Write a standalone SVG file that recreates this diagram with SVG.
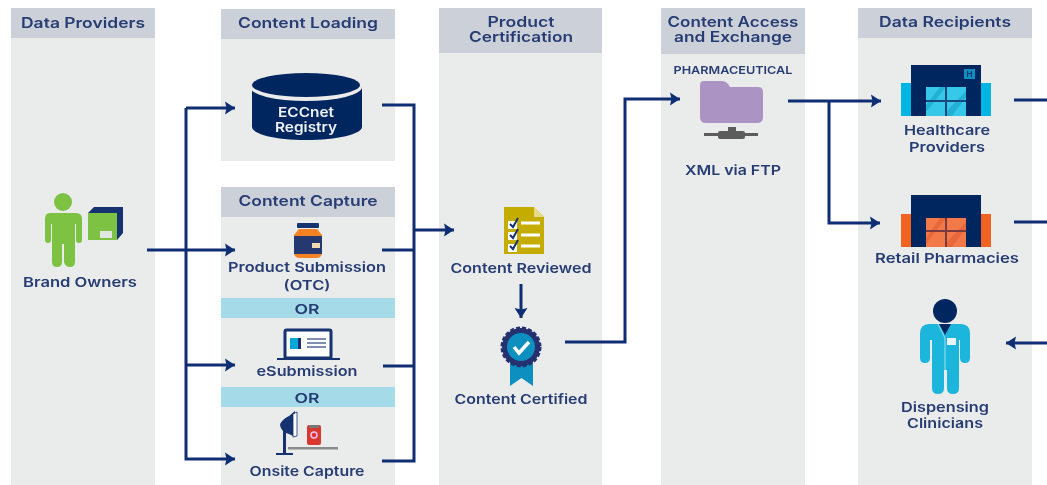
<svg xmlns="http://www.w3.org/2000/svg" width="1047" height="485" viewBox="0 0 1047 485">
<style>
.col{fill:#eaebeb}.hd{fill:#ccd0d9}.or{fill:#a5dbe8}
text{font-family:Inter,"Open Sans","Liberation Sans",sans-serif;font-weight:600;fill:#283c73;text-anchor:middle;font-size:13.5px}
.h{font-size:14.5px}
.w{fill:#fff}
.c path{fill:none;stroke:#0e2f73;stroke-width:3}
</style>
<defs>
<marker id="a" markerUnits="userSpaceOnUse" markerWidth="13" markerHeight="15" refX="10" refY="7.500" orient="auto"><path d="M0 1L10 7.500L0 14L1.500 7.500Z" fill="#0e2f73"/></marker>
<filter id="soft" x="0" y="0" width="100%" height="100%"><feGaussianBlur stdDeviation="0.6"/></filter>
</defs>
<rect width="1047" height="485" fill="#fff"/>
<g filter="url(#soft)">
<g id="col-providers"><rect class="col" x="11" y="8" width="144" height="477"/><rect class="hd" x="11" y="8" width="144" height="30"/><text class="h" x="83" y="28" textLength="124" lengthAdjust="spacingAndGlyphs">Data Providers</text></g>
<g id="col-loading"><rect class="col" x="221" y="9" width="174" height="152"/><rect class="hd" x="221" y="9" width="174" height="30"/><text class="h" x="308" y="28" textLength="140" lengthAdjust="spacingAndGlyphs">Content Loading</text></g>
<g id="col-capture"><rect class="col" x="221" y="187" width="174" height="298"/><rect class="hd" x="221" y="187" width="174" height="30"/><text class="h" x="308" y="206" textLength="139" lengthAdjust="spacingAndGlyphs">Content Capture</text>
<rect class="or" x="221" y="298" width="174" height="20"/><text x="307" y="314" textLength="25" lengthAdjust="spacingAndGlyphs">OR</text>
<rect class="or" x="221" y="387" width="174" height="20"/><text x="307" y="403" textLength="25" lengthAdjust="spacingAndGlyphs">OR</text></g>
<g id="col-cert"><rect class="col" x="439" y="8" width="163" height="477"/><rect class="hd" x="439" y="8" width="163" height="45"/><text class="h" x="521" y="27" textLength="67" lengthAdjust="spacingAndGlyphs">Product</text><text class="h" x="521" y="42" textLength="104" lengthAdjust="spacingAndGlyphs">Certification</text></g>
<g id="col-access"><rect class="col" x="661" y="8" width="144" height="477"/><rect class="hd" x="661" y="8" width="144" height="46"/><text class="h" x="733" y="27" textLength="131" lengthAdjust="spacingAndGlyphs">Content Access</text><text class="h" x="733" y="42" textLength="118" lengthAdjust="spacingAndGlyphs">and Exchange</text></g>
<g id="col-recipients"><rect class="col" x="858" y="8" width="174" height="477"/><rect class="hd" x="858" y="8" width="174" height="30"/><text class="h" x="945" y="27" textLength="132" lengthAdjust="spacingAndGlyphs">Data Recipients</text></g>

<g class="c" id="connectors">
<path d="M147 250H235" marker-end="url(#a)"/>
<path d="M186 108H235" marker-end="url(#a)"/>
<path d="M186 108V459H235" marker-end="url(#a)"/>
<path d="M186 365H235" marker-end="url(#a)"/>
<path d="M382 105H414V461H382"/>
<path d="M382 250H414"/><path d="M383 366H414"/>
<path d="M414 230H454" marker-end="url(#a)"/>
<path d="M521 284V318" marker-end="url(#a)"/>
<path d="M565 342H625V99H680" marker-end="url(#a)"/>
<path d="M788 101H881" marker-end="url(#a)"/>
<path d="M829 101V223H880" marker-end="url(#a)"/>
<path d="M1014 100H1047"/><path d="M1014 222H1047"/>
<path d="M1047 343H1006" marker-end="url(#a)"/>
</g>

<g id="brand-owners">
<circle cx="63" cy="202" r="9" fill="#7dc242"/>
<path d="M50 213H76Q82 213 82 219V240Q82 243 79 243T76 240V224H75V262Q75 267 70 267T64 262V244H62V262Q62 267 57 267T52 262V224H51V240Q51 243 48 243T45 240V219Q45 213 50 213Z" fill="#7dc242"/>
<path d="M88 213L94 207H123V233L117 240H88Z" fill="#12306f"/>
<rect x="88" y="213" width="29" height="27" fill="#7dc242"/>
<rect x="100" y="231" width="12" height="7" fill="#dfe8e0"/>
<text x="80" y="287" textLength="114" lengthAdjust="spacingAndGlyphs">Brand Owners</text>
</g>
<g id="eccnet">
<path d="M252 87V127C252 134 275 140 306 140S362 134 362 127V87Z" fill="#06285f"/>
<ellipse cx="306" cy="87" rx="56" ry="14" fill="#eaebeb"/>
<ellipse cx="306" cy="85" rx="54" ry="12" fill="#06285f"/>
<text x="306" y="117" textLength="56" lengthAdjust="spacingAndGlyphs" style="fill:#eef1f5">ECCnet</text>
<text x="306" y="132" textLength="62" lengthAdjust="spacingAndGlyphs" style="fill:#eef1f5">Registry</text>
</g>
<g id="product-submission">
<rect x="297" y="223" width="22" height="5" rx="1" fill="#12306f"/>
<path d="M299 229H317L322 235V252Q322 258 316 258H300Q294 258 294 252V235Z" fill="#f58220"/>
<rect x="294" y="236" width="28" height="18" fill="#25386f"/>
<rect x="312" y="243" width="8" height="5" fill="#f2d9b0"/>
<text x="307" y="272" textLength="158" lengthAdjust="spacingAndGlyphs">Product Submission</text><text x="307" y="290" textLength="47" lengthAdjust="spacingAndGlyphs">(OTC)</text>
</g>
<g id="esubmission">
<rect x="285" y="330" width="46" height="28" rx="1.500" fill="#fff" stroke="#12306f" stroke-width="3"/>
<rect x="277" y="358" width="63" height="2" fill="#12306f"/>
<rect x="290" y="338" width="11" height="11" fill="#00a7d8"/><rect x="298" y="338" width="3" height="11" fill="#12306f"/>
<path d="M307 339H326M307 343H326M307 347H326" stroke="#7f8fb0" stroke-width="2"/>
<text x="307" y="376" textLength="101" lengthAdjust="spacingAndGlyphs">eSubmission</text>
</g>
<g id="onsite-capture">
<path d="M295 411L289 416Q281 420 280 425Q281 432 289 434L295 437Z" fill="#12306f"/>
<path d="M293 414L297 412V436L293 437Z" fill="#fff" stroke="#12306f" stroke-width=".8"/>
<rect x="283" y="430" width="3" height="23" fill="#12306f"/>
<rect x="276" y="453" width="17" height="2" fill="#12306f"/>
<rect x="288" y="447" width="50" height="2.500" fill="#8b8b8b"/>
<rect x="307" y="425" width="14" height="20" rx="2" fill="#d8392f"/>
<rect x="309" y="425" width="10" height="3" fill="#777"/>
<circle cx="314" cy="435" r="3" fill="none" stroke="#fbe" stroke-width="1.500"/>
<text x="307" y="476" textLength="115" lengthAdjust="spacingAndGlyphs">Onsite Capture</text>
</g>
<g id="content-reviewed">
<path d="M504 207H534L544 217V254H504Z" fill="#c5ad00"/>
<path d="M534 207L544 217H534Z" fill="#e6da85"/>
<path d="M521 223H540M521 235H540M521 246H540" stroke="#fff" stroke-width="3"/>
<rect x="508" y="221" width="9" height="8" class="w"/><rect x="508" y="232" width="9" height="8" class="w"/><rect x="508" y="244" width="9" height="8" class="w"/>
<path d="M510 224L513 227L518 218M510 235L513 238L518 229M510 246L513 249L518 240" fill="none" stroke="#12306f" stroke-width="2"/>
<text x="521" y="273" textLength="141" lengthAdjust="spacingAndGlyphs">Content Reviewed</text>
</g>
<g id="content-certified">
<path d="M510 360H533V386L521.500 378L510 386Z" fill="#0f8fc0"/>
<circle cx="521" cy="347" r="19" fill="#25306f" stroke="#25306f" stroke-width="3" stroke-dasharray="4 2"/>
<circle cx="521" cy="347" r="14" fill="#0f8fc0"/>
<path d="M514 347L519 353L529 342" fill="none" stroke="#fff" stroke-width="3.500"/>
<text x="521" y="404" textLength="133" lengthAdjust="spacingAndGlyphs">Content Certified</text>
</g>
<g id="pharmaceutical-ftp">
<text x="733" y="74" textLength="119" lengthAdjust="spacingAndGlyphs" style="font-size:11px">PHARMACEUTICAL</text>
<path d="M704 81H722Q727 81 730 87H758Q763 87 763 92V117Q763 123 757 123H706Q700 123 700 117V85Q700 81 704 81Z" fill="#ab93c3"/>
<rect x="728" y="127" width="8" height="5" fill="#5b5b5b"/>
<rect x="704" y="133" width="54" height="3" fill="#5b5b5b"/><rect x="718" y="131" width="27" height="8" rx="2" fill="#5b5b5b"/>
<text x="733" y="175" textLength="96" lengthAdjust="spacingAndGlyphs">XML via FTP</text>
</g>
<g id="healthcare">
<rect x="901" y="83" width="90" height="33" fill="#00b5e2"/>
<rect x="911" y="65" width="70" height="51" fill="#06285f"/>
<rect x="964" y="69" width="11" height="10" fill="#0f8fc0"/>
<text x="969.500" y="77" style="font-size:8px;fill:#06285f">H</text>
<rect x="926" y="87" width="40" height="29" fill="#36c8e8"/>
<path d="M926 105L940 87H946L926 112ZM946 112L966 91V97L952 116H946Z" fill="#22b0d6"/>
<path d="M946 87V116M926 101H966" stroke="#12497f" stroke-width="2"/>
<text x="947" y="135" textLength="86" lengthAdjust="spacingAndGlyphs">Healthcare</text><text x="947" y="152" textLength="76" lengthAdjust="spacingAndGlyphs">Providers</text>
</g>
<g id="retail">
<rect x="901" y="214" width="90" height="33" fill="#f26322"/>
<rect x="911" y="195" width="70" height="52" fill="#06285f"/>
<rect x="926" y="218" width="40" height="29" fill="#f4794a"/>
<path d="M926 238L940 218H946L926 244ZM946 243L966 222V228L952 247H946Z" fill="#e9683a"/>
<path d="M946 218V247M926 231H966" stroke="#7a3a40" stroke-width="2"/>
<text x="947" y="263" textLength="144" lengthAdjust="spacingAndGlyphs">Retail Pharmacies</text>
</g>
<g id="clinicians">
<circle cx="945" cy="311" r="12" fill="#06285f"/>
<path d="M929 324H961Q970 324 970 334V358Q970 363 965 363T960 358V340H959V388Q959 394 953 394T947 388V370H944V388Q944 394 938 394T932 388V340H930V358Q930 363 925 363T920 358V334Q920 324 929 324Z" fill="#1fb5dc"/>
<path d="M939 324H951L945 335Z" fill="#06285f"/>
<path d="M938 324L945 338V370" fill="none" stroke="#9fe0ef"/>
<rect x="947" y="338" width="9" height="7" fill="#e8f4f8"/>
<text x="945" y="412" textLength="88" lengthAdjust="spacingAndGlyphs">Dispensing</text><text x="945" y="428" textLength="76" lengthAdjust="spacingAndGlyphs">Clinicians</text>
</g>
</g>
</svg>
